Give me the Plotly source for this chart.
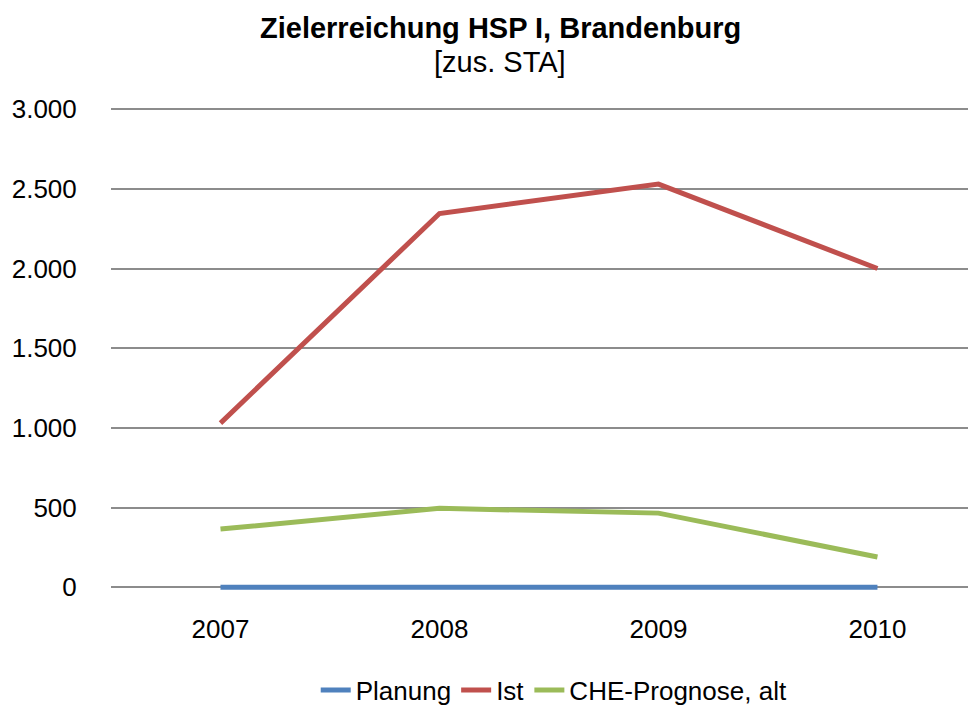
import plotly.graph_objects as go

years = ["2007", "2008", "2009", "2010"]
planung = [0, 0, 0, 0]
ist = [1030, 2345, 2530, 2000]
che_prognose_alt = [365, 495, 465, 190]

y_ticks = [0, 500, 1000, 1500, 2000, 2500, 3000]
y_tick_labels = ["0", "500", "1.000", "1.500", "2.000", "2.500", "3.000"]

series = [
    ("Planung", planung, "#4F81BD"),
    ("Ist", ist, "#C0504D"),
    ("CHE-Prognose, alt", che_prognose_alt, "#9BBB59"),
]

fig = go.Figure()
for name, vals, color in series:
    fig.add_trace(go.Scatter(
        x=years, y=vals, name=name, mode="lines",
        line=dict(color=color, width=5),
    ))

font_family = "Liberation Sans, Arial, sans-serif"

# page has an 8px body margin; figure is sized to fill the rest of the window.
# plot area spans page x 111..976 and y 106..592
W, H = 968, 698
fig.update_layout(
    width=W, height=H,
    margin=dict(l=103, r=0, t=98, b=114, autoexpand=False),
    paper_bgcolor="white", plot_bgcolor="white",
    font=dict(family=font_family, size=26, color="black"),
    showlegend=True,
    legend=dict(
        orientation="h", x=(504 - 8) / W, xanchor="center",
        yref="container", y=(H - (690 - 8)) / H, yanchor="middle",
        font=dict(size=26, color="black"), tracegroupgap=0,
    ),
    annotations=[
        dict(text="<b>Zielerreichung HSP I, Brandenburg</b>", xref="paper", yref="paper",
             x=(500 - 111) / 865, y=(592 - 28) / 486, xanchor="center", yanchor="middle",
             showarrow=False, font=dict(size=29, color="black")),
        dict(text="[zus. STA]", xref="paper", yref="paper",
             x=(500 - 111) / 865, y=(592 - 62) / 486, xanchor="center", yanchor="middle",
             showarrow=False, font=dict(size=29, color="black")),
    ],
)

fig.update_xaxes(
    type="category", range=[-0.5, 3.45], automargin=False,
    showgrid=False, showline=False, zeroline=False,
    ticks="outside", ticklen=14, tickcolor="rgba(0,0,0,0)",
    tickfont=dict(size=26),
)
fig.update_yaxes(
    range=[-30, 3020], tickvals=y_ticks, ticktext=y_tick_labels, automargin=False,
    showgrid=True, gridcolor="#8C8C8C", gridwidth=1.5,
    showline=False, zeroline=False,
    ticks="outside", ticklen=28, tickcolor="rgba(0,0,0,0)",
    tickfont=dict(size=26),
)

fig.write_html("out.html")
